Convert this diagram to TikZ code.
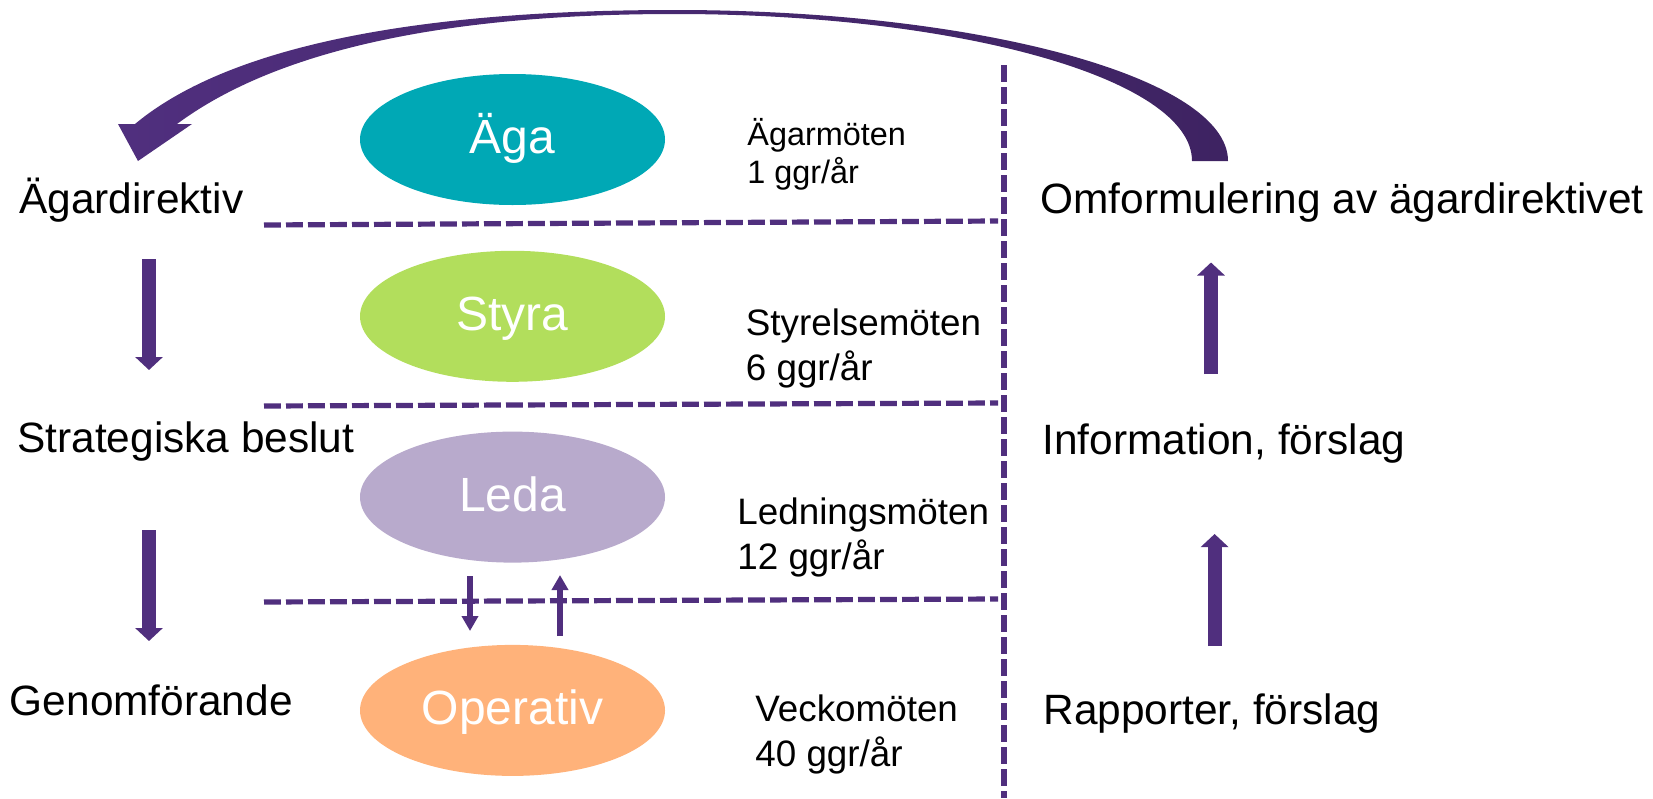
\documentclass[tikz,border=0pt]{standalone}
\usepackage{fontspec}
\setmainfont{Liberation Sans}
\usepackage{tikz}
\usetikzlibrary{positioning, arrows.meta, shapes.geometric}
\definecolor{lila}{RGB}{80,47,126}
\definecolor{morklila}{RGB}{62,35,98}
\definecolor{turkos}{RGB}{0,168,181}
\definecolor{limegron}{RGB}{178,222,92}
\definecolor{ljuslila}{RGB}{184,170,204}
\definecolor{persika}{RGB}{255,178,122}

\begin{document}
\begin{tikzpicture}[x=0.5pt, y=-0.5pt,
  level node/.style={ellipse, minimum width=152.5pt, minimum height=65.5pt, inner sep=0pt,
    text=white, font=\fontsize{24}{24}\selectfont, text height=18.7pt, text depth=4.8pt},
  side label/.style={anchor=base west, inner sep=0pt, font=\fontsize{21.2}{25}\selectfont},
  meet label/.style={anchor=base west, inner sep=0pt, font=\fontsize{18.4}{22}\selectfont},
  sep line/.style={draw=lila, line width=2.6pt, dash pattern=on 8.4pt off 2.6pt},
  block arrow/.style={draw=lila, line width=7pt, -{Triangle[length=6.5pt, width=13.5pt]}},
  small arrow/.style={draw=lila, line width=2.9pt, -{Triangle[length=7.5pt, width=8pt]}}]

\useasboundingbox (0,0) rectangle (1653,798);

\node[level node, fill=turkos] (AG) at (512.5,139.5) {Äga};
\node[level node, fill=limegron] (ST) [below=22.5pt of AG] {Styra};
\node[level node, fill=ljuslila] (LE) [below=24.5pt of ST] {Leda};
\node[level node, fill=persika] (OP) [below=40.75pt of LE] {Operativ};

\node[side label] (AD) at (19,213) {Ägardirektiv};
\node[side label] (SB) at (17,452) {Strategiska beslut};
\node[side label] (GF) at (9.5,715) {Genomförande};
\node[side label] (OF) at (1040,213) {Omformulering av ägardirektivet};
\node[side label] (IF) at (1042,454) {Information, förslag};
\node[side label] (RF) at (1043,724) {Rapporter, förslag};

\node[meet label, font=\fontsize{16.2}{19}\selectfont] (AM) at (747,145) {Ägarmöten};
\node[meet label, font=\fontsize{16.2}{19}\selectfont] (AF) at ([yshift=-19pt]AM.base west) {1 ggr/år};
\node[meet label] (SM) at (745.5,335) {Styrelsemöten};
\node[meet label] (SF) at ([yshift=-22.5pt]SM.base west) {6 ggr/år};
\node[meet label] (LM) at (737,524) {Ledningsmöten};
\node[meet label] (LF) at ([yshift=-22.5pt]LM.base west) {12 ggr/år};
\node[meet label] (VM) at (755,721) {Veckomöten};
\node[meet label] (VF) at ([yshift=-22.5pt]VM.base west) {40 ggr/år};

\draw[sep line] (264,225) -- (998,221);
\draw[sep line] (264,406) -- (998,403);
\draw[sep line] (264,602) -- (998,599);
\draw[sep line] (1004,65) -- (1004,798);

\coordinate (d1) at (149,259);
\coordinate (d2) at (149,370);
\coordinate (d3) at (149,530);
\coordinate (d4) at (149,641);
\coordinate (u1) at (1211,374);
\coordinate (u2) at (1211,262.5);
\coordinate (u3) at (1214.6,646);
\coordinate (u4) at (1214.6,534);
\coordinate (n1) at (470,576);
\coordinate (n2) at (470,631);
\coordinate (m1) at (560,636);
\coordinate (m2) at (560,575);

\draw[block arrow] (d1) -- (d2);
\draw[block arrow] (d3) -- (d4);
\draw[block arrow] (u1) -- (u2);
\draw[block arrow] (u3) -- (u4);
\draw[small arrow] (n1) -- (n2);
\draw[small arrow] (m1) -- (m2);

\shade[left color=lila, right color=morklila]
  (1228,161) .. controls (1228,78) and (980,10) .. (675,10)
  .. controls (420,10) and (230,45) .. (135,124)
  -- (118,124) -- (138,161) -- (192,124) -- (177,124)
  .. controls (270,55) and (430,14) .. (675,14)
  .. controls (960,14) and (1192,79) .. (1192,161) -- cycle;
\end{tikzpicture}
\end{document}
